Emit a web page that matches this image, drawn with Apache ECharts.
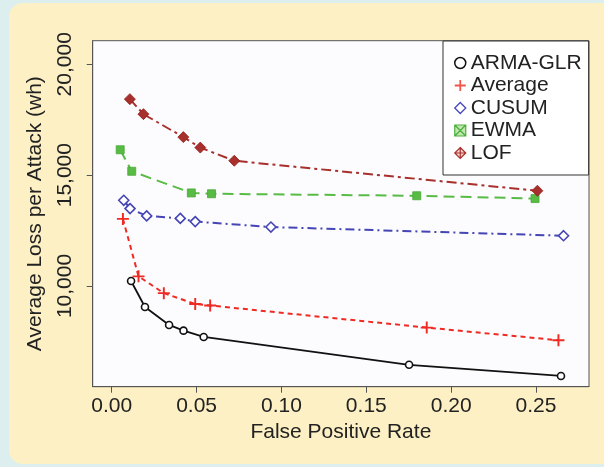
<!DOCTYPE html>
<html>
<head>
<meta charset="utf-8">
<script src="https://cdn.jsdelivr.net/npm/echarts@6/dist/echarts.min.js"></script>
<style>
  body { margin: 0; background: #dcefee; }
  #panel { position: absolute; left: 9px; top: 3px; width: 595px; height: 461px; background: #fdf0c4; border-radius: 14px 0 0 14px; }
  #chart { position: absolute; left: 0; top: 0; width: 604px; height: 467px; }
</style>
</head>
<body>
<div id="panel"></div>
<div id="chart"></div>
<script>
// values
const fprArma = [0.0114, 0.0196, 0.0338, 0.0423, 0.0542, 0.1752, 0.2647];
const lossArma = [10225, 9054, 8243, 7987, 7703, 6445, 5944];

const fprAvg = [0.0066, 0.0158, 0.0307, 0.0492, 0.0580, 0.1856, 0.2632];
const lossAvg = [13027, 10435, 9678, 9189, 9121, 8124, 7554];

const fprCusum = [0.0071, 0.0108, 0.0206, 0.0404, 0.0492, 0.0938, 0.2662];
const lossCusum = [13867, 13491, 13162, 13050, 12906, 12660, 12268];

const fprEwma = [0.0050, 0.0118, 0.0469, 0.0588, 0.1797, 0.2494];
const lossEwma = [16145, 15175, 14198, 14161, 14071, 13944];

const fprLof = [0.0107, 0.0187, 0.0422, 0.0522, 0.0722, 0.2508];
const lossLof = [18429, 17753, 16716, 16243, 15649, 14296];

const xTicks = [0, 0.05, 0.10, 0.15, 0.20, 0.25];
const yTicks = [10000, 15000, 20000];

const zip = (xs, ys) => xs.map((x, i) => [x, ys[i]]);

const plusPath = 'path://M4.2,0H5.8V4.2H10V5.8H5.8V10H4.2V5.8H0V4.2H4.2Z';
const lofIcon = 'path://M5,0L10,5L5,10L0,5Z M5,0L5,10 M0,5L10,5';
const ewmaIcon = 'path://M0,0H10V10H0Z M0,0L10,10 M10,0L0,10';

const font = '"Liberation Sans", Arial, Helvetica, sans-serif';

const myChart = echarts.init(document.getElementById('chart'));

const option = {
    animation: false,
    textStyle: { fontFamily: font },
    grid: {
        left: 92.7,
        top: 40.7,
        right: 15,
        bottom: 80.3,
        show: true,
        backgroundColor: '#fcfcfe',
        borderColor: '#555',
        borderWidth: 1,
        outerBoundsMode: 'none'
    },
    xAxis: {
        type: 'value',
        min: -0.0112,
        max: 0.2812,
        name: 'False Positive Rate',
        nameLocation: 'middle',
        nameGap: 35,
        nameMoveOverlap: false,
        nameTextStyle: { fontSize: 21, color: '#222', fontFamily: font },
        axisLine: { show: true, onZero: false, lineStyle: { color: '#555', width: 1 } },
        axisTick: { show: true, length: 6, customValues: xTicks, lineStyle: { color: '#555' } },
        axisLabel: {
            customValues: xTicks,
            margin: 9,
            fontSize: 21,
            color: '#222',
            fontFamily: font,
            formatter: function (v) { return v.toFixed(2); }
        },
        splitLine: { show: false }
    },
    yAxis: {
        type: 'value',
        min: 5458,
        max: 21065,
        name: 'Average Loss per Attack (wh)',
        nameLocation: 'middle',
        nameGap: 47,
        nameMoveOverlap: false,
        nameTextStyle: { fontSize: 21, color: '#222', fontFamily: font },
        axisLine: { show: true, onZero: false, lineStyle: { color: '#555', width: 1 } },
        axisTick: { show: true, length: 6, customValues: yTicks, lineStyle: { color: '#555' } },
        axisLabel: {
            customValues: yTicks,
            rotate: 90,
            margin: 17,
            fontSize: 21,
            color: '#222',
            fontFamily: font,
            formatter: function (v) { return v.toLocaleString('en-US'); }
        },
        splitLine: { show: false }
    },
    legend: {
        orient: 'vertical',
        left: 443,
        top: 41,
        padding: [11.5, 7, 11.5, 11],
        itemWidth: 11,
        itemHeight: 11,
        itemGap: 1.5,
        backgroundColor: '#fff',
        borderColor: '#333',
        borderWidth: 1,
        borderRadius: 0,
        textStyle: { fontSize: 21, lineHeight: 21, color: '#222', fontFamily: font },
        data: [
            { name: 'ARMA-GLR', icon: 'circle', itemStyle: { color: '#fff', borderColor: '#111', borderWidth: 1.5 } },
            { name: 'Average', icon: plusPath, itemStyle: { color: '#f0564a', borderWidth: 0 } },
            { name: 'CUSUM', icon: 'diamond', itemStyle: { color: '#fff', borderColor: '#4848b8', borderWidth: 1.3 } },
            { name: 'EWMA', icon: ewmaIcon, itemStyle: { color: '#bfe8b0', borderColor: '#4caf3a', borderWidth: 1.2 } },
            { name: 'LOF', icon: lofIcon, itemStyle: { color: '#f4d6d2', borderColor: '#a8302c', borderWidth: 1.2 } }
        ]
    },
    series: [
        {
            name: 'ARMA-GLR',
            type: 'line',
            data: zip(fprArma, lossArma),
            symbol: 'circle',
            symbolSize: 7,
            itemStyle: { color: '#fff', borderColor: '#111', borderWidth: 1.6 },
            lineStyle: { color: '#111', width: 1.8, type: 'solid' }
        },
        {
            name: 'Average',
            type: 'line',
            data: zip(fprAvg, lossAvg),
            symbol: plusPath,
            symbolSize: 12,
            itemStyle: { color: '#ee2a22', borderWidth: 0 },
            lineStyle: { color: '#ee2a22', width: 2, type: [5, 4] }
        },
        {
            name: 'CUSUM',
            type: 'line',
            data: zip(fprCusum, lossCusum),
            symbol: 'diamond',
            symbolSize: 10,
            itemStyle: { color: '#fff', borderColor: '#4545b5', borderWidth: 1.6 },
            lineStyle: { color: '#4545b5', width: 2, type: [9, 4, 2, 4] }
        },
        {
            name: 'EWMA',
            type: 'line',
            data: zip(fprEwma, lossEwma),
            symbol: 'rect',
            symbolSize: 8,
            itemStyle: { color: '#58bb44', borderColor: '#4aa838', borderWidth: 0.8 },
            lineStyle: { color: '#58bb44', width: 2, type: [11, 6] }
        },
        {
            name: 'LOF',
            type: 'line',
            data: zip(fprLof, lossLof),
            symbol: 'diamond',
            symbolSize: 11,
            itemStyle: { color: '#a8302c', borderColor: '#8e1f1c', borderWidth: 0.8 },
            lineStyle: { color: '#a8302c', width: 2, type: [10, 4, 3, 4] }
        }
    ]
};

myChart.setOption(option);
</script>
</body>
</html>
